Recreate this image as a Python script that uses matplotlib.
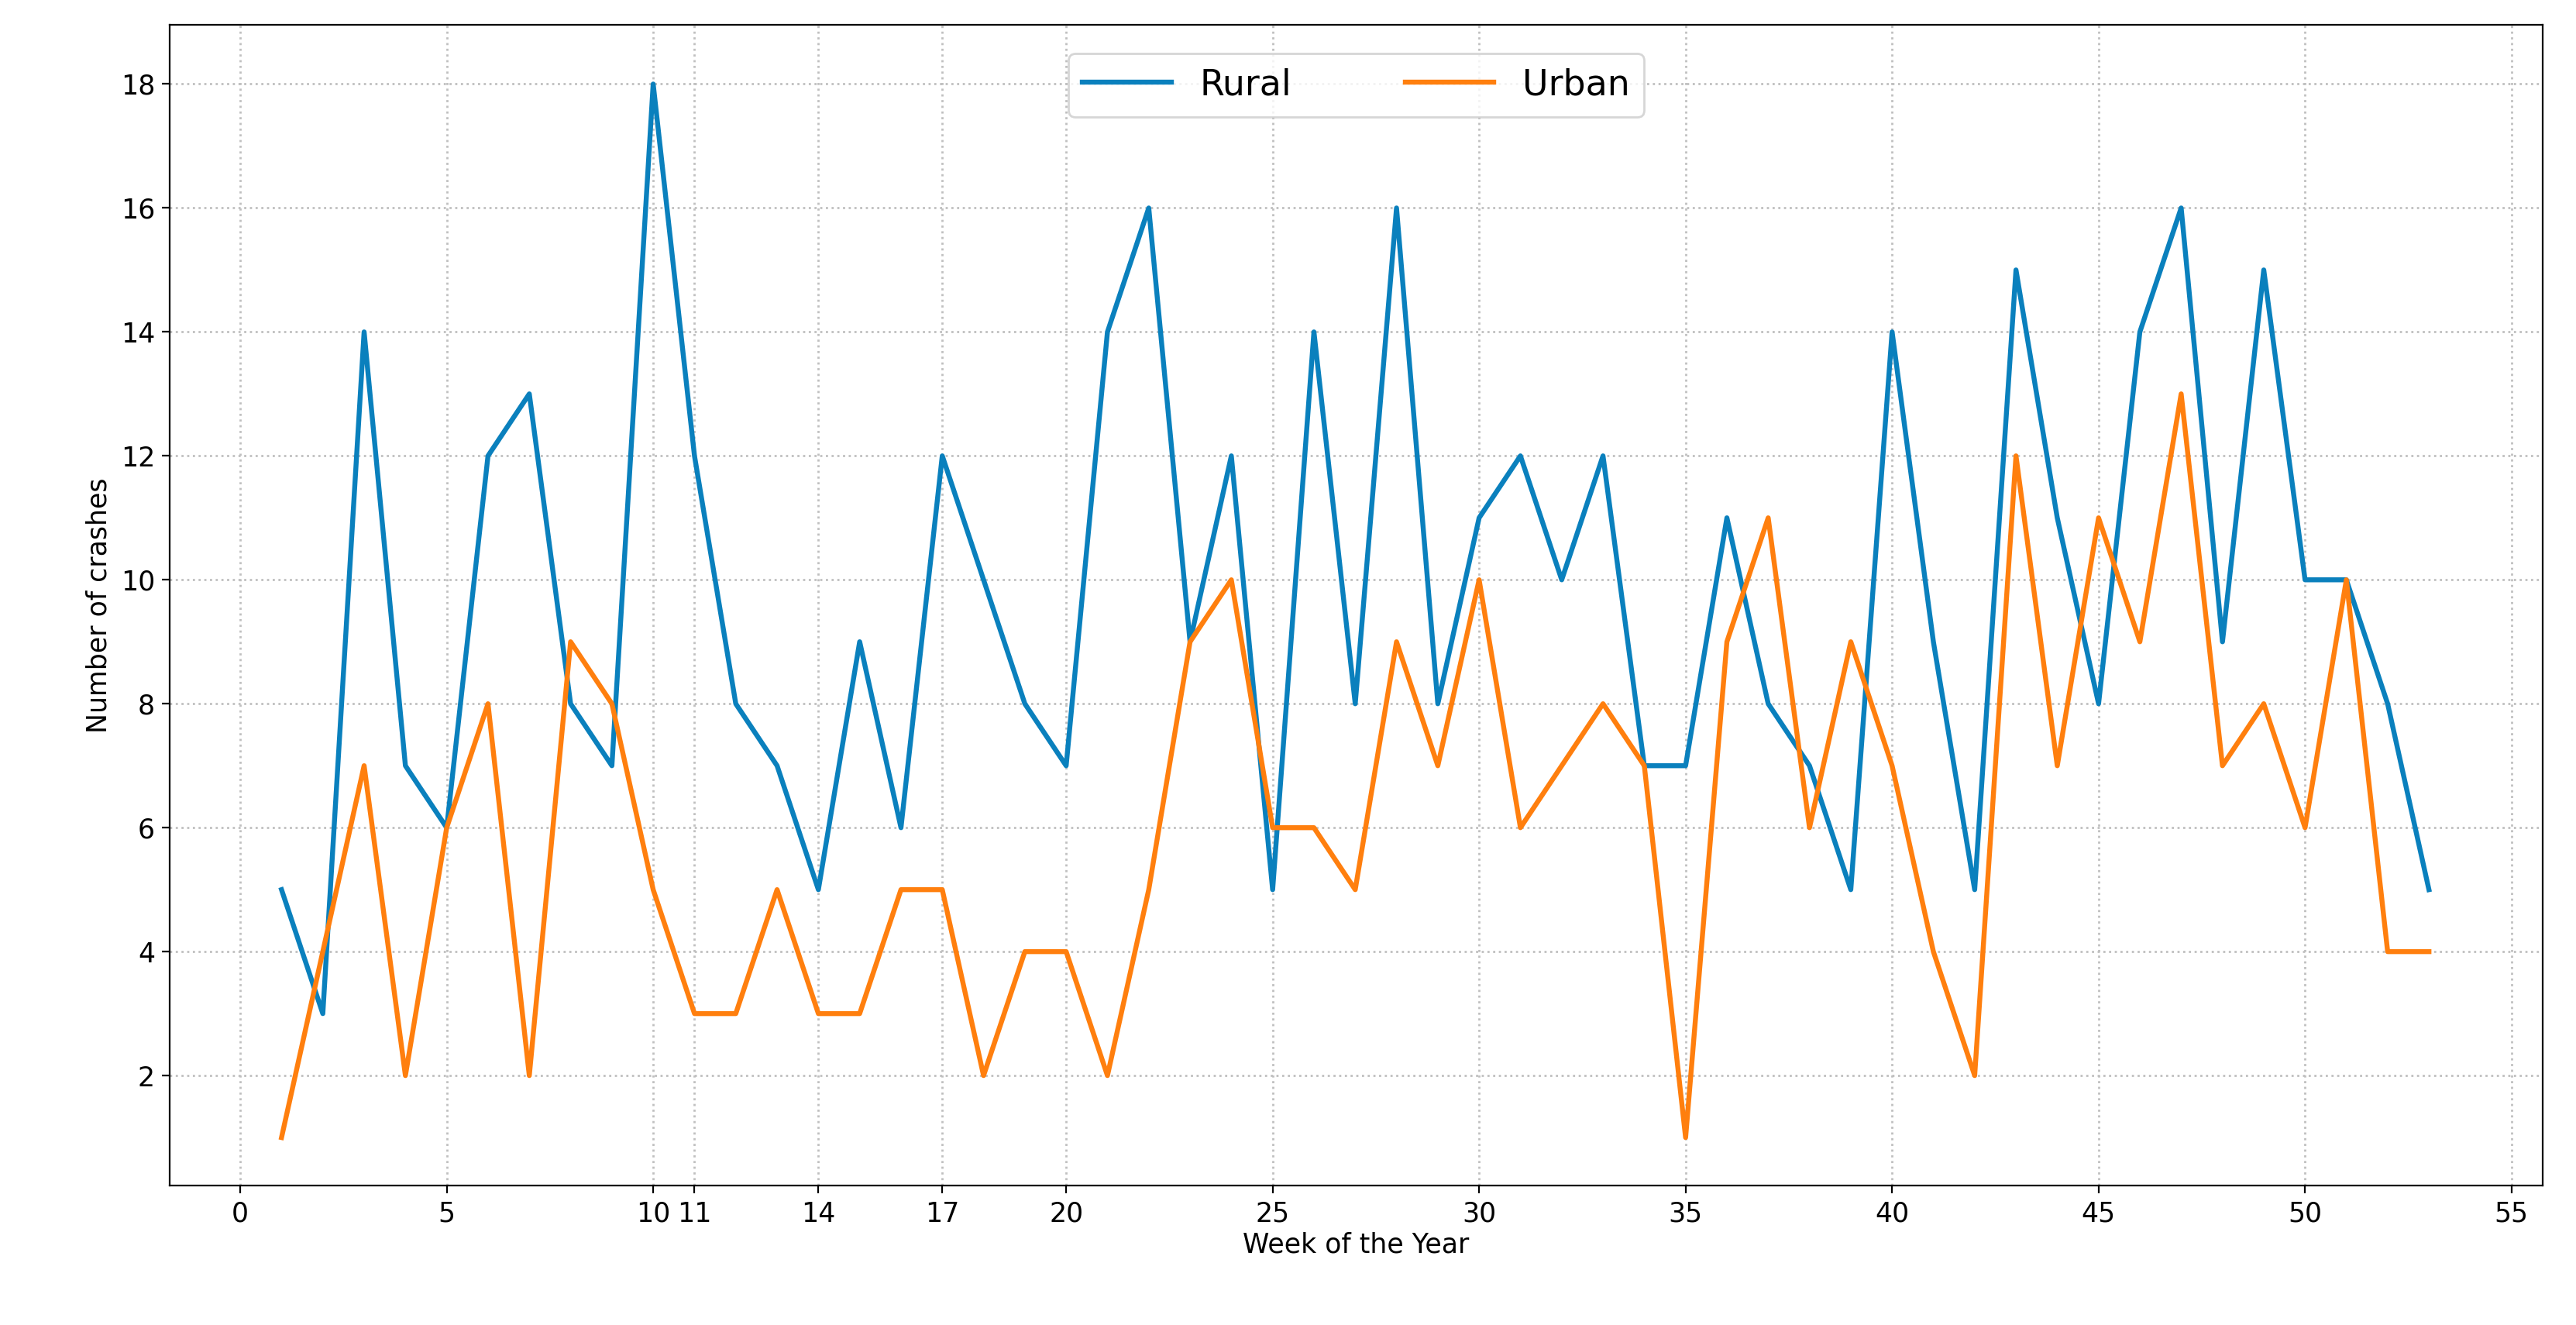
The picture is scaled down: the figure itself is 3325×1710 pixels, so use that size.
import numpy as np
import matplotlib.pyplot as plt

weeks = list(range(1, 54))
rural = [5, 3, 14, 7, 6, 12, 13, 8, 7, 18, 12, 8, 7, 5, 9, 6, 12, 10, 8, 7,
         14, 16, 9, 12, 5, 14, 8, 16, 8, 11, 12, 10, 12, 7, 7, 11, 8, 7, 5, 14,
         9, 5, 15, 11, 8, 14, 16, 9, 15, 10, 10, 8, 5]
urban = [1, 4, 7, 2, 6, 8, 2, 9, 8, 5, 3, 3, 5, 3, 3, 5, 5, 2, 4, 4,
         2, 5, 9, 10, 6, 6, 5, 9, 7, 10, 6, 7, 8, 7, 1, 9, 11, 6, 9, 7,
         4, 2, 12, 7, 11, 9, 13, 7, 8, 6, 10, 4, 4]
xticks = [0, 5, 10, 11, 14, 17, 20, 25, 30, 35, 40, 45, 50, 55]

fig, ax = plt.subplots(figsize=(16.625, 8.55), dpi=200)
fig.subplots_adjust(left=0.066, right=0.987, top=0.981, bottom=0.105)

ax.plot(weeks, rural, color='#0a80bd', linewidth=2.3, label='Rural')
ax.plot(weeks, urban, color='#ff7f0e', linewidth=2.3, label='Urban')

ax.set_xticks(xticks)
ax.set_yticks(range(2, 19, 2))
ax.set_xlim(-1.7, 55.75)
ax.set_ylim(0.22, 18.95)
ax.tick_params(labelsize=12.5)
ax.grid(True, linestyle=':', color='#c0c0c0', linewidth=1.0)

ax.set_xlabel('Week of the Year', fontsize=12.5, labelpad=2)
ax.set_ylabel('Number of crashes', fontsize=12.5)
ax.legend(loc='upper center', ncol=2, fontsize=16.5, handlelength=2.5,
          columnspacing=3.2, borderaxespad=0.8)

fig.savefig('out.png')
